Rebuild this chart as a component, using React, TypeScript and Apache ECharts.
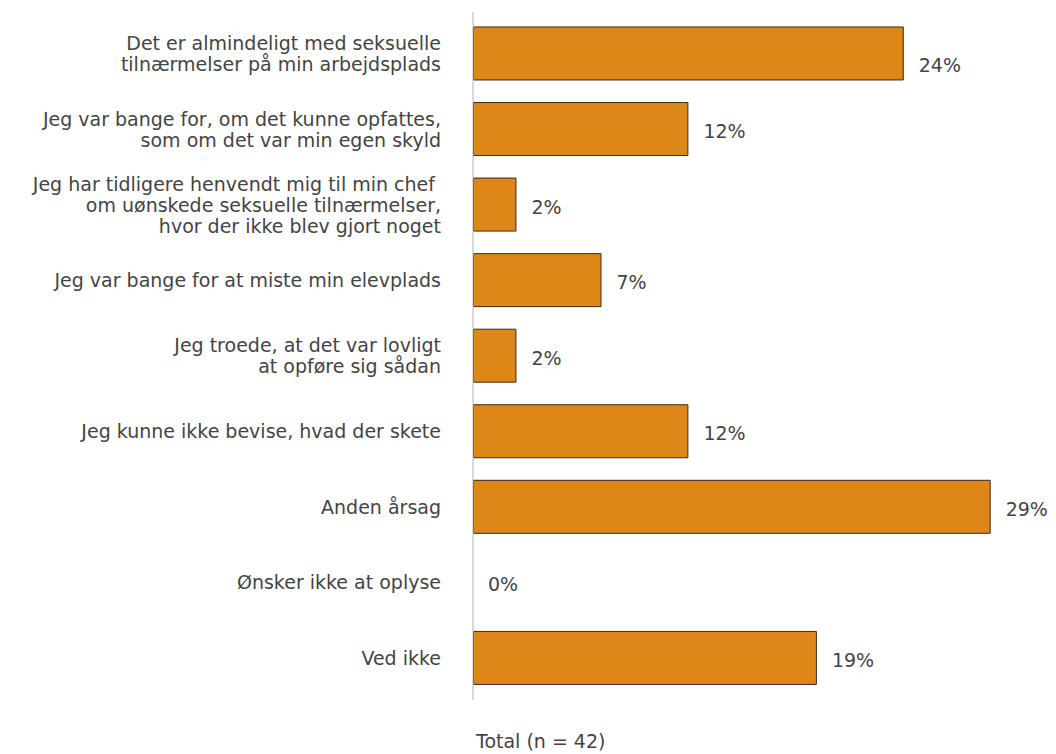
import React, { useEffect, useRef } from "react";
import * as echarts from "echarts";

const categories = [
  "Det er almindeligt med seksuelle\ntilnærmelser på min arbejdsplads",
  "Jeg var bange for, om det kunne opfattes,\nsom om det var min egen skyld",
  "Jeg har tidligere henvendt mig til min chef \nom uønskede seksuelle tilnærmelser,\nhvor der ikke blev gjort noget",
  "Jeg var bange for at miste min elevplads",
  "Jeg troede, at det var lovligt\nat opføre sig sådan",
  "Jeg kunne ikke bevise, hvad der skete",
  "Anden årsag",
  "Ønsker ikke at oplyse",
  "Ved ikke",
];
const values = [23.8, 11.9, 2.4, 7.1, 2.4, 11.9, 28.6, 0, 19.0];
const totalLabel = "Total (n = 42)";

const FONT = "'DejaVu Sans', sans-serif";
const TEXT = "#444444";
const FS = 19;

export default function App() {
  const ref = useRef<HTMLDivElement>(null);
  useEffect(() => {
    if (!ref.current) return;
    const chart = echarts.init(ref.current, undefined, { renderer: "svg" });
    chart.setOption({
      animation: false,
      backgroundColor: "#ffffff",
      textStyle: { fontFamily: FONT },
      grid: { left: 473, top: 15.7, height: 680, width: 543 },
      xAxis: {
        type: "value",
        min: 0,
        max: 30,
        show: false,
      },
      yAxis: {
        type: "category",
        data: categories,
        inverse: true,
        axisLine: { show: false },
        axisTick: { show: false },
        splitLine: { show: false },
        axisLabel: {
          margin: 32,
          fontSize: FS,
          lineHeight: 21,
          color: TEXT,
          fontFamily: FONT,
        },
      },
      series: [
        {
          type: "bar",
          data: values.map((v, i) => {
            const item: any = { value: v };
            if (v === 0) item.itemStyle = { borderWidth: 0 };
            if (i === 0) item.label = { offset: [0, 12] };
            return item;
          }),
          barWidth: 54,
          itemStyle: {
            color: "#DF8619",
            borderColor: "#3a2a1a",
            borderWidth: 1,
          },
          label: {
            show: true,
            position: "right",
            distance: 15,
            offset: [0, 2],
            fontSize: FS,
            color: TEXT,
            fontFamily: FONT,
            formatter: (p: any) => Math.round(p.value) + "%",
          },
        },
      ],
      graphic: [
        {
          type: "line",
          shape: { x1: 473, y1: 12, x2: 473, y2: 700 },
          style: { stroke: "#b4b4b4", lineWidth: 1 },
          z: 10,
        },
        {
          type: "text",
          left: 476,
          top: 731,
          style: {
            text: totalLabel,
            fontSize: FS,
            fill: TEXT,
            fontFamily: FONT,
          },
        },
      ],
    });
    return () => chart.dispose();
  }, []);
  return (
    <div
      ref={ref}
      style={{ position: "absolute", left: 0, top: 0, width: 1056, height: 754 }}
    />
  );
}
